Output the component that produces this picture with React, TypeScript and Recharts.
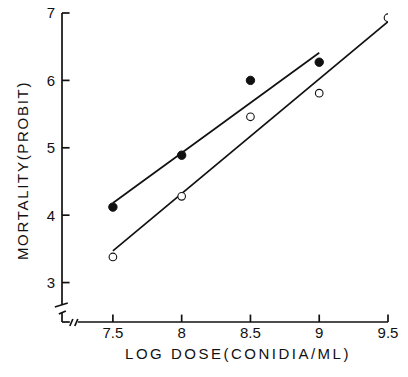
import { ComposedChart, Line, Scatter, XAxis, YAxis, ReferenceLine, Label } from 'recharts';

// values
const doseTicks = [7.5, 8, 8.5, 9, 9.5];
const probitTicks = [3, 4, 5, 6, 7];

const filledDose = [7.5, 8, 8.5, 9];
const filledProbit = [4.12, 4.89, 6.0, 6.27];

const openDose = [7.5, 8, 8.5, 9, 9.5];
const openProbit = [3.38, 4.28, 5.46, 5.81, 6.93];

const filledFitDose = [7.5, 9];
const filledFitProbit = [4.18, 6.41];

const openFitDose = [7.5, 9.5];
const openFitProbit = [3.47, 6.87];

const X_MIN = 7.13;
const X_MAX = 9.5;
const Y_MIN = 2.415;
const Y_MAX = 7;

// inward tick lengths, in data units (~7px)
const X_TICK_LEN = 0.11;
const Y_TICK_LEN = 0.055;

const FONT = '"Liberation Sans", Arial, Helvetica, sans-serif';
const INK = '#111';

const toPoints = (xs: number[], ys: number[]) => xs.map((dose, i) => ({ dose, probit: ys[i] }));

const filledPoints = toPoints(filledDose, filledProbit);
const openPoints = toPoints(openDose, openProbit);
const filledFit = toPoints(filledFitDose, filledFitProbit);
const openFit = toPoints(openFitDose, openFitProbit);

// broken axis pieces, in data units
const axisSegments = [
  // y axis above the break
  [{ x: X_MIN, y: 2.667 }, { x: X_MIN, y: Y_MAX }],
  // break slashes on y axis
  [{ x: 7.078, y: 2.637 }, { x: 7.172, y: 2.696 }],
  [{ x: 7.107, y: 2.533 }, { x: 7.158, y: 2.578 }],
  // corner stub
  [{ x: X_MIN, y: 2.56 }, { x: X_MIN, y: Y_MIN }],
  [{ x: X_MIN, y: Y_MIN }, { x: 7.187, y: Y_MIN }],
  // break slashes on x axis
  [{ x: 7.187, y: 2.356 }, { x: 7.209, y: 2.459 }],
  [{ x: 7.223, y: 2.356 }, { x: 7.245, y: 2.459 }],
  // x axis after the break
  [{ x: 7.245, y: Y_MIN }, { x: X_MAX, y: Y_MIN }],
  // tick marks
  ...doseTicks.map((d) => [{ x: d, y: Y_MIN }, { x: d, y: Y_MIN + X_TICK_LEN }]),
  ...probitTicks.map((p) => [{ x: X_MIN, y: p }, { x: X_MIN + Y_TICK_LEN, y: p }]),
];

const FilledDot = (props: any) => (
  <circle cx={props.cx} cy={props.cy} r={4.2} fill={INK} stroke={INK} strokeWidth={1} />
);

const OpenDot = (props: any) => (
  <circle cx={props.cx} cy={props.cy} r={3.8} fill="#fff" stroke={INK} strokeWidth={1.1} />
);

export default function App() {
  return (
    <div style={{ position: 'absolute', left: 0, top: 0, width: 408, height: 377, background: '#fff' }}>
      <ComposedChart width={408} height={377} margin={{ top: 13, right: 20, bottom: 15, left: 0 }}>
        <XAxis
          type="number"
          dataKey="dose"
          domain={[X_MIN, X_MAX]}
          ticks={doseTicks}
          allowDataOverflow
          axisLine={false}
          tickLine={false}
          tickSize={-7}
          tickMargin={12.5}
          height={40}
          tick={{ fill: INK, fontSize: 15, fontFamily: FONT }}
        >
          <Label
            content={(p: any) => {
              const vb = p.viewBox;
              return (
                <text
                  x={vb.x + vb.width / 2 + 13}
                  y={vb.y + 37}
                  textAnchor="middle"
                  fill={INK}
                  fontSize={15}
                  fontFamily={FONT}
                  letterSpacing={2.5}
                >
                  LOG DOSE(CONIDIA/ML)
                </text>
              );
            }}
          />
        </XAxis>
        <YAxis
          type="number"
          dataKey="probit"
          domain={[Y_MIN, Y_MAX]}
          ticks={probitTicks}
          allowDataOverflow
          axisLine={false}
          tickLine={false}
          tickSize={-7}
          tickMargin={14}
          width={62}
          tick={{ fill: INK, fontSize: 15, fontFamily: FONT }}
        >
          <Label
            content={(p: any) => {
              const vb = p.viewBox;
              const cx = 22;
              const cy = vb.y + vb.height / 2 + 3;
              return (
                <text
                  x={cx}
                  y={cy}
                  transform={`rotate(-90 ${cx} ${cy})`}
                  textAnchor="middle"
                  dominantBaseline="central"
                  fill={INK}
                  fontSize={15}
                  fontFamily={FONT}
                  letterSpacing={1.7}
                >
                  MORTALITY(PROBIT)
                </text>
              );
            }}
          />
        </YAxis>

        {axisSegments.map((seg, i) => (
          <ReferenceLine key={i} segment={seg} stroke={INK} strokeWidth={1.7} ifOverflow="visible" />
        ))}

        <Line data={filledFit} dataKey="probit" type="linear" stroke={INK} strokeWidth={1.7} dot={false} isAnimationActive={false} />
        <Line data={openFit} dataKey="probit" type="linear" stroke={INK} strokeWidth={1.7} dot={false} isAnimationActive={false} />
        <Scatter data={filledPoints} dataKey="probit" shape={FilledDot} isAnimationActive={false} />
        <Scatter data={openPoints} dataKey="probit" shape={OpenDot} isAnimationActive={false} />
      </ComposedChart>
    </div>
  );
}
